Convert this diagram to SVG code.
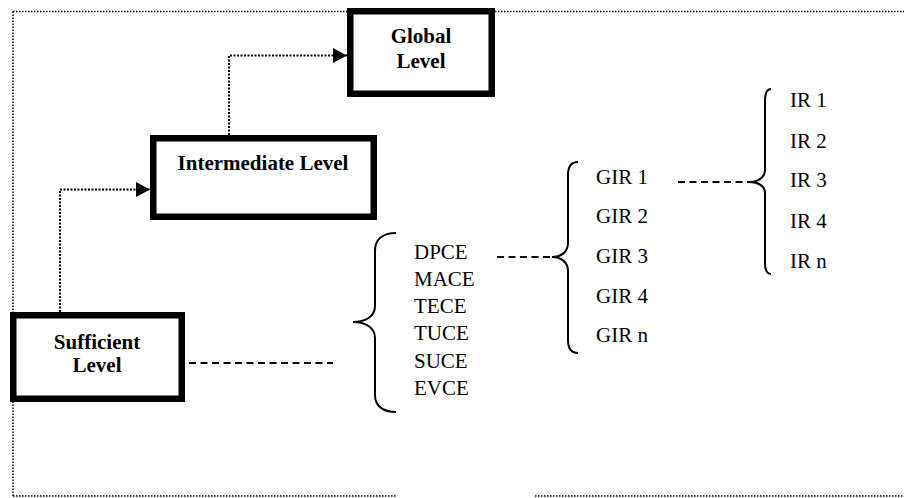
<svg xmlns="http://www.w3.org/2000/svg" width="904" height="498" viewBox="0 0 904 498">
<defs>
<style>
.frame{fill:none;stroke:#000;stroke-width:1.5;stroke-dasharray:1.5 1.5}
.box{fill:#fff;stroke:#000;stroke-width:6.5}
.dot{fill:none;stroke:#000;stroke-width:2;stroke-dasharray:2 1.5}
.dash{fill:none;stroke:#000;stroke-width:1.8;stroke-dasharray:7 4.5}
.brace{fill:none;stroke:#000;stroke-width:2}
.lbl{font-family:"Liberation Serif","Times New Roman",serif;font-weight:bold;font-size:21px;fill:#000;text-anchor:middle}
.itm{font-family:"Liberation Serif","Times New Roman",serif;font-size:21px;fill:#000}
</style>
<marker id="arr" markerWidth="14" markerHeight="15" refX="14" refY="7.5" orient="auto" markerUnits="userSpaceOnUse">
<path d="M0,0 L14,7.5 L0,15 Z" fill="#000"/>
</marker>
</defs>
<rect width="904" height="498" fill="#fff"/>
<g id="frame">
<path class="frame" d="M13,11.5 L347,11.5 M495,11.5 L904,11.5 M13,11.5 L13,496 M13,496 L397,496 M535,496 L904,496"/>
</g>
<g id="connectors">
<path class="dot" d="M229,135 L229,55.5 L347,55.5" marker-end="url(#arr)"/>
<path class="dot" d="M60,312 L60,189.5 L150,189.5" marker-end="url(#arr)"/>
<path class="dash" d="M189,363 L333,363"/>
<path class="dash" d="M497,257 L552,257"/>
<path class="dash" d="M678,182 L750,182"/>
</g>
<g id="global">
<rect class="box" x="350.25" y="11.25" width="141.5" height="82.5"/>
<text class="lbl" x="421" y="43">Global</text>
<text class="lbl" x="421" y="68">Level</text>
</g>
<g id="intermediate">
<rect class="box" x="153.25" y="138.25" width="220.5" height="78.5"/>
<text class="lbl" x="263" y="170">Intermediate Level</text>
</g>
<g id="sufficient">
<rect class="box" x="13.25" y="315.25" width="168.5" height="83.5"/>
<text class="lbl" x="97" y="349">Sufficient</text>
<text class="lbl" x="97" y="372">Level</text>
</g>
<g id="ce-group">
<path class="brace" d="M396,233 C383,233 375,239 375,251 L375,306 C375,316 366,322 353,322 C366,322 375,328 375,338 L375,395 C375,406 383,412 396,412"/>
<text class="itm" x="414" y="259">DPCE</text>
<text class="itm" x="414" y="286">MACE</text>
<text class="itm" x="414" y="313">TECE</text>
<text class="itm" x="414" y="340">TUCE</text>
<text class="itm" x="414" y="368">SUCE</text>
<text class="itm" x="414" y="395">EVCE</text>
</g>
<g id="gir-group">
<path class="brace" d="M578,162 C572,162 568,166 568,175 L568,243 C568,252 561,257 552,257 C561,257 568,262 568,271 L568,340 C568,349 572,353 578,353"/>
<text class="itm" x="596" y="184">GIR 1</text>
<text class="itm" x="596" y="223">GIR 2</text>
<text class="itm" x="596" y="263">GIR 3</text>
<text class="itm" x="596" y="303">GIR 4</text>
<text class="itm" x="596" y="342">GIR n</text>
</g>
<g id="ir-group">
<path class="brace" d="M771,89 C767,89 765,93 765,101 L765,170 C765,177 758,182 750,182 C758,182 765,186 765,193 L765,263 C765,270 767,274 771,274"/>
<text class="itm" x="790" y="107">IR 1</text>
<text class="itm" x="790" y="148">IR 2</text>
<text class="itm" x="790" y="187">IR 3</text>
<text class="itm" x="790" y="228">IR 4</text>
<text class="itm" x="790" y="268">IR n</text>
</g>
</svg>
